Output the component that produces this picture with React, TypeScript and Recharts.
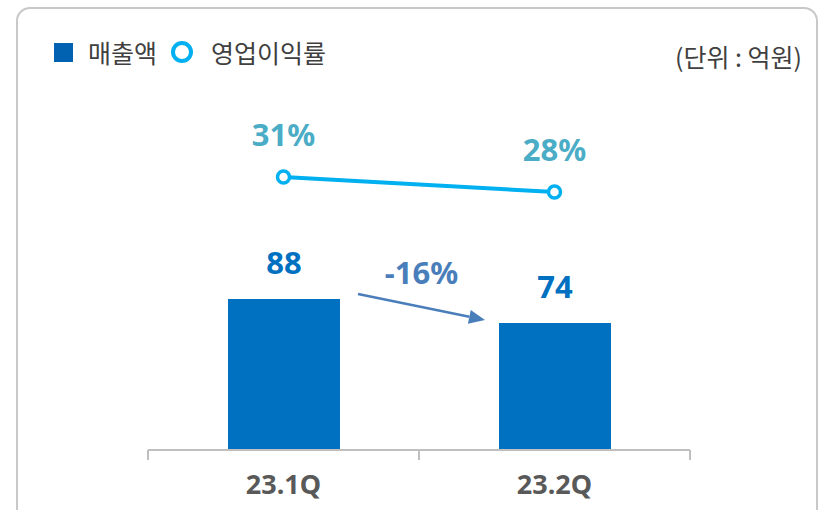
import { ComposedChart, Bar, Line, XAxis, YAxis, LabelList } from 'recharts';

const categories = ['23.1Q', '23.2Q'];
const sales = [88, 74];
const opMargin = [31, 28];

const data = categories.map((q, i) => ({ q, sales: sales[i], margin: opMargin[i] }));

const W = 818;
const H = 510;
const M = { top: 100, right: 128, bottom: 0, left: 148 };
const step = (W - M.left - M.right) / categories.length;

const FONT = "'Noto Sans', 'Noto Sans CJK KR', sans-serif";
const KFONT = "'Noto Sans CJK KR', sans-serif";
const BAR = '#0070c0';
const LINE = '#00b0f0';
const PCT = '#4bacc6';
const ARROW = '#4a7ebb';

function BarLabel(props: any) {
  const { x, y, width, height, value, index } = props;
  const cx = x + width / 2;
  const label = (
    <text x={cx} y={y - 37} textAnchor="middle" dominantBaseline="central"
      fill={BAR} fontSize={31} fontWeight={700} fontFamily={FONT}>{value}</text>
  );
  if (index !== 0) return label;
  // arrow from this bar to the next one
  const h2 = (height * sales[1]) / sales[0];
  const top2 = y + height - h2;
  const x1 = x + width + 18;
  const y1 = y - 5;
  const x2 = x + step - 14;
  const y2 = top2 - 3;
  const len = Math.hypot(x2 - x1, y2 - y1);
  const ux = (x2 - x1) / len;
  const uy = (y2 - y1) / len;
  const hl = 16;
  const hw = 7;
  const bx = x2 - ux * hl;
  const by = y2 - uy * hl;
  const change = Math.round((sales[1] / sales[0] - 1) * 100);
  return (
    <g>
      {label}
      <line x1={x1} y1={y1} x2={bx} y2={by} stroke={ARROW} strokeWidth={2.5} />
      <polygon
        points={`${x2},${y2} ${bx - uy * hw},${by + ux * hw} ${bx + uy * hw},${by - ux * hw}`}
        fill={ARROW}
      />
      <text x={(x1 + x2) / 2} y={(y1 + y2) / 2 - 35} textAnchor="middle" dominantBaseline="central"
        fill={ARROW} fontSize={31} fontWeight={700} fontFamily={FONT}>{`${change}%`}</text>
    </g>
  );
}

function PctLabel(props: any) {
  const { x, y, value } = props;
  return (
    <text x={x} y={y - 43} textAnchor="middle" dominantBaseline="central"
      fill={PCT} fontSize={31} fontWeight={700} fontFamily={FONT}>{`${value}%`}</text>
  );
}

function QuarterTick(props: any) {
  const { x, y, payload, index } = props;
  return (
    <g>
      <line x1={x - step / 2} y1={y} x2={x - step / 2} y2={y + 10} stroke="#bfbfbf" strokeWidth={2} />
      {index === categories.length - 1 && (
        <line x1={x + step / 2} y1={y} x2={x + step / 2} y2={y + 10} stroke="#bfbfbf" strokeWidth={2} />
      )}
      <text x={x} y={y + 33} textAnchor="middle" dominantBaseline="central"
        fill="#595959" fontSize={27} fontWeight={700} fontFamily={FONT}>{payload.value}</text>
    </g>
  );
}

export default function App() {
  return (
    <div style={{ position: 'absolute', left: 0, top: 0, width: W, height: H, overflow: 'hidden', background: '#fff', fontFamily: FONT }}>
      <div style={{ position: 'absolute', left: 16, top: 7, width: 798, height: 520, border: '2px solid #c8c8c8', borderRadius: 14 }} />
      <div style={{ position: 'absolute', left: 54, top: 36, display: 'flex', alignItems: 'center', fontSize: 25, fontWeight: 400, fontFamily: KFONT, color: '#404040', lineHeight: '32px' }}>
        <span style={{ display: 'inline-block', width: 19, height: 19, background: '#0062b0', marginRight: 15 }} />
        <span>매출액</span>
        <span style={{ display: 'inline-block', width: 14, height: 14, border: `4px solid ${LINE}`, borderRadius: '50%', margin: '0 18px 0 14px' }} />
        <span>영업이익률</span>
      </div>
      <div style={{ position: 'absolute', right: 16, top: 40, fontSize: 25, fontWeight: 400, fontFamily: KFONT, color: '#404040', lineHeight: '32px' }}>
        (단위 : 억원)
      </div>
      <div style={{ position: 'absolute', left: 0, top: 0 }}>
        <ComposedChart width={W} height={H} data={data} margin={M}>
          <XAxis dataKey="q" height={60} tickSize={0} tickMargin={0} tickLine={false}
            axisLine={{ stroke: '#bfbfbf', strokeWidth: 2 }} tick={<QuarterTick />} interval={0} />
          <YAxis yAxisId="amt" hide domain={[0, 204]} />
          <YAxis yAxisId="pct" hide domain={[-23.6, 46.4]} />
          <Bar yAxisId="amt" dataKey="sales" fill={BAR} barSize={112} isAnimationActive={false}>
            <LabelList dataKey="sales" content={<BarLabel />} />
          </Bar>
          <Line yAxisId="pct" dataKey="margin" stroke={LINE} strokeWidth={4}
            dot={{ r: 6, fill: '#fff', stroke: LINE, strokeWidth: 3.5 }} isAnimationActive={false}>
            <LabelList dataKey="margin" content={<PctLabel />} />
          </Line>
        </ComposedChart>
      </div>
    </div>
  );
}
